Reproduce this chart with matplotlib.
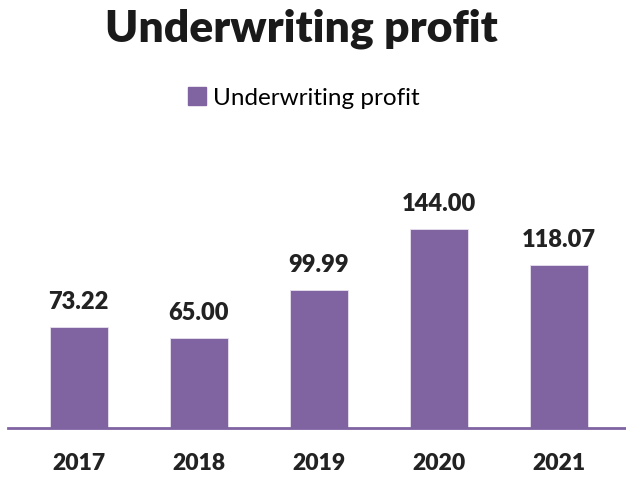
import matplotlib.pyplot as plt
from matplotlib.patches import Patch

years = ['2017', '2018', '2019', '2020', '2021']
profit = [73.22, 65.00, 99.99, 144.00, 118.07]
series_name = 'Underwriting profit'

purple = '#8064A2'
plt.rcParams['font.family'] = ['Lato', 'DejaVu Sans']

fig = plt.figure(figsize=(6.26, 4.79), dpi=100)
ax = fig.add_axes([8 / 626, 51 / 479, 618 / 626, 221 / 479])

bars = ax.bar(range(len(years)), profit, width=0.48, color=purple,
              edgecolor='#e8e0f0', linewidth=0.6)
ax.bar_label(bars, labels=['%.2f' % v for v in profit], padding=10,
             fontsize=17, fontweight='heavy', color='#222222')

ax.set_xlim(-0.59, 4.56)
ax.set_ylim(0, 160)
ax.set_xticks(range(len(years)))
ax.set_xticklabels(years, fontsize=16.5, fontweight='heavy', color='#222222')
ax.tick_params(axis='x', length=0, pad=18)
ax.set_yticks([])
for s in ['top', 'right', 'left']:
    ax.spines[s].set_visible(False)
ax.spines['bottom'].set_color(purple)
ax.spines['bottom'].set_linewidth(2)

fig.text(0.482, 1 - 29 / 479, 'Underwriting profit', ha='center', va='center',
         fontsize=32, fontweight='heavy', color='#1a1a1a')

fig.legend(handles=[Patch(color=purple, label=series_name)], loc='center',
           bbox_to_anchor=(0.485, 1 - 98 / 479), frameon=False, fontsize=17.5,
           handlelength=0.75, handleheight=0.75, handletextpad=0.3)

fig.savefig('out.png', dpi=100)
